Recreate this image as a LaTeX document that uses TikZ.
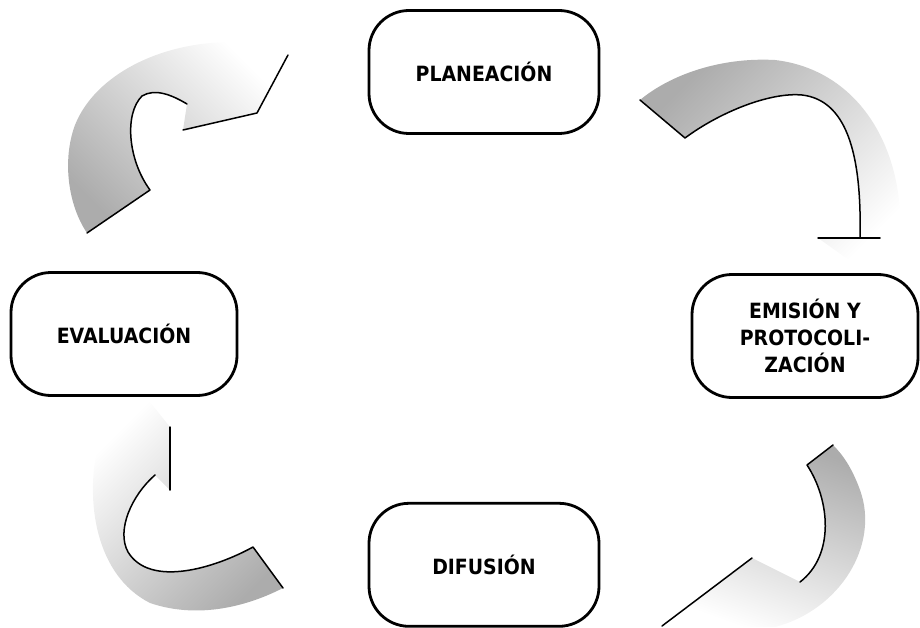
\documentclass[tikz,border=0pt]{standalone}
\usepackage{fontspec}
\setmainfont[FakeStretch=0.9]{DejaVu Sans}
\usetikzlibrary{positioning}

\begin{document}
\begin{tikzpicture}[x=1pt,y=-1pt,
 box/.style={draw,line width=2.8pt,rounded corners=40pt,minimum width=230pt,minimum height=123pt,align=center,font=\fontsize{21}{27}\selectfont\bfseries},
 band/.style={shading=axis,draw=none},
 rim/.style={line width=1.5pt,line cap=round,line join=round}]
\useasboundingbox (0,0) rectangle (920,628);
\node[box] (plan) at (484,72) {PLANEACIÓN};
\node[box,below=367pt of plan] (dif) {DIFUSIÓN};
\node[box,minimum width=226pt] (emis) at (805,336) {EMISIÓN Y\\PROTOCOLI-\\ZACIÓN};
\node[box,minimum width=226pt] (eval) at (124,334) {EVALUACIÓN};
% eval -> plan
\shade[band,top color=white,bottom color=gray!65,shading angle=-45]
 (87,233) -- (150,190) .. controls (128,160) and (124,114) .. (142,96) .. controls (155,88) and (172,95) .. (187,104)
 -- (183,130) -- (257,113) -- (288,55) -- (232,42) .. controls (160,42) and (95,75) .. (75,125) .. controls (62,160) and (68,205) .. (87,233) -- cycle;
\draw[rim] (87,233) -- (150,190) .. controls (128,160) and (124,114) .. (142,96) .. controls (155,88) and (172,95) .. (187,104);
\draw[rim] (183,130) -- (257,113) -- (288,55);
% plan -> emis
\shade[band,top color=gray!65,bottom color=white,shading angle=45]
 (640,100) -- (685,138) .. controls (720,112) and (770,92) .. (802,95) .. controls (845,100) and (862,150) .. (860,238)
 -- (818,238) -- (860,268) -- (912,238) -- (900,238) .. controls (905,150) and (860,70) .. (775,60) .. controls (720,57) and (670,75) .. (640,100) -- cycle;
\draw[rim] (640,100) -- (685,138) .. controls (720,112) and (770,92) .. (802,95) .. controls (845,100) and (862,150) .. (860,238);
\draw[rim] (818,238) -- (880,238);
% emis -> dif
\shade[band,top color=gray!65,bottom color=white,shading angle=-20]
 (833,445) -- (807,465) .. controls (830,500) and (835,555) .. (800,582) -- (752,558) -- (662,626) -- (775,627)
 .. controls (840,610) and (880,545) .. (860,490) .. controls (852,468) and (843,455) .. (833,445) -- cycle;
\draw[rim] (833,445) -- (807,465) .. controls (830,500) and (835,555) .. (800,582);
\draw[rim] (752,558) -- (662,626);
% dif -> eval
\shade[band,top color=white,bottom color=gray!65,shading angle=45]
 (283,588) -- (253,547) .. controls (215,568) and (150,588) .. (128,552) .. controls (116,530) and (132,495) .. (155,475)
 -- (170,490) -- (170,427) -- (150,402) -- (98,445) .. controls (85,500) and (95,575) .. (150,603) .. controls (200,620) and (250,605) .. (283,588) -- cycle;
\draw[rim] (283,588) -- (253,547) .. controls (215,568) and (150,588) .. (128,552) .. controls (116,530) and (132,495) .. (155,475);
\draw[rim] (170,490) -- (170,427);
\end{tikzpicture}
\end{document}
